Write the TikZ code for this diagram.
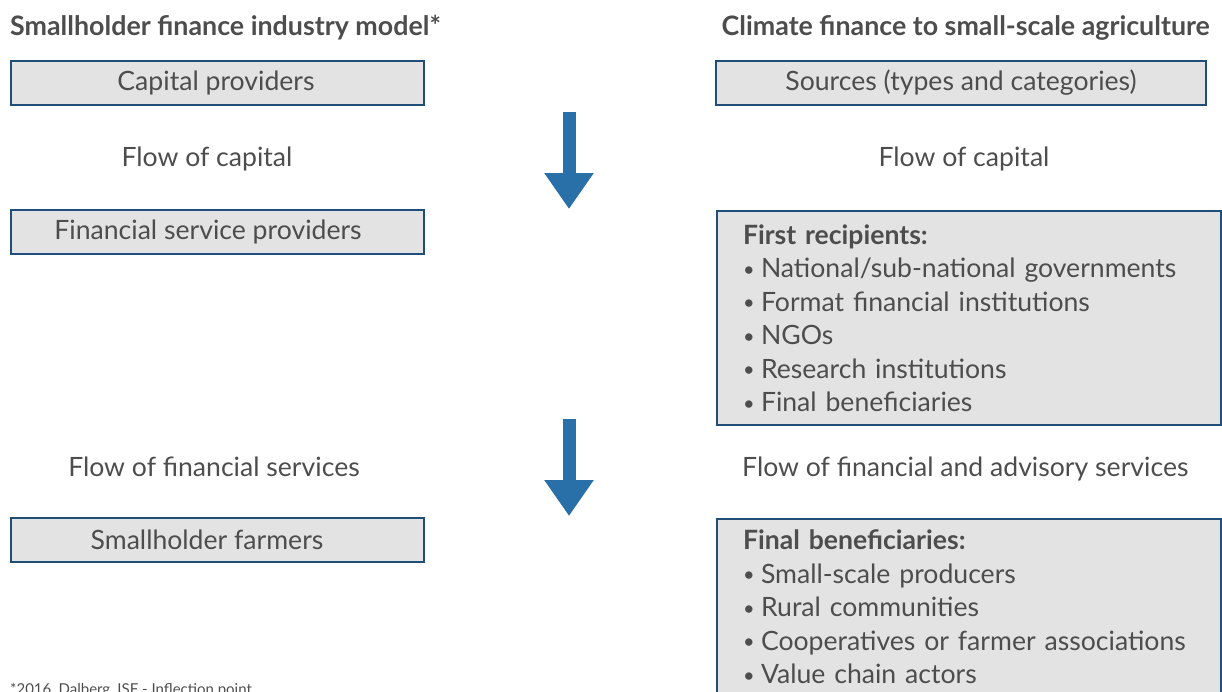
\documentclass[tikz,border=0pt]{standalone}
\usepackage{fontspec}
\setmainfont{Lato}
\usepackage{xcolor}
\usetikzlibrary{arrows.meta}
\definecolor{boxfill}{HTML}{E3E3E3}
\definecolor{boxline}{HTML}{1F4E79}
\definecolor{txtgray}{HTML}{4D4D4D}
\definecolor{arrowblue}{HTML}{2A70A8}
\tikzset{
  %---------------------------------------%
  %  Text styles                          %
  %---------------------------------------%
  % Column headings
  title_text/.style={
    inner sep=0pt,
    text=txtgray,
    font=\fontsize{26.8}{30}\selectfont\bfseries
  },
  % Flow labels between the boxes
  flow_text/.style={
    inner sep=0pt,
    text=txtgray,
    font=\fontsize{26.6}{33.5}\selectfont
  },
  % Footnote
  note_text/.style={
    inner sep=0pt,
    text=txtgray,
    font=\fontsize{15}{18}\selectfont
  },
  %---------------------------------------%
  %  Boxes                                %
  %---------------------------------------%
  % One-line box
  box_single/.style={
    rectangle,
    align=center,
    draw=boxline,
    line width=2pt,
    fill=boxfill,
    text=txtgray,
    inner sep=0pt,
    minimum width=413pt,
    minimum height=44pt,
    font=\fontsize{26.6}{33.5}\selectfont
  },
  % Box with a heading and a list
  box_list/.style={
    rectangle,
    align=left,
    anchor=north west,
    draw=boxline,
    line width=2pt,
    fill=boxfill,
    text=txtgray,
    text width=452pt,
    inner xsep=26pt,
    inner ysep=13.5pt,
    font=\fontsize{26.6}{33.5}\selectfont
  },
  %----------------%
  %     Arrows     %
  %----------------%
  flow_arrow/.style={draw=arrowblue, line width=13pt, -{Triangle[width=47pt,length=36pt]}},
}
% small list bullet
\newcommand{\itm}{\makebox[18pt][l]{\raisebox{1.5pt}{\scalebox{0.75}{\textbullet}}}}

\begin{document}
\begin{tikzpicture}[x=1pt, y=-1pt]
    \useasboundingbox (0, 0) rectangle (1222, 691);

    %------------------%
    %  Headings        %
    %------------------%
    \node (head_l) [title_text, anchor=base west] at (10, 35) {Smallholder finance industry model*};
    \node (head_r) [title_text, anchor=base east] at (1210, 35) {Climate finance to small-scale agriculture};

    %------------------%
    %  Capital         %
    %------------------%
    \node (cap_l) [box_single] at (217.5, 83) {\hspace*{-3pt}Capital providers};
    \node (cap_r) [box_single, minimum width=490pt] at (961, 83) {Sources (types and categories)};

    \node (flow1_l) [flow_text, anchor=base] at (207, 166.5) {Flow of capital};
    \node (flow1_r) [flow_text, anchor=base] at (964, 166.5) {Flow of capital};

    %------------------%
    %  Intermediaries  %
    %------------------%
    \node (fsp_l) [box_single] at (217.5, 232) {\hspace*{-19pt}Financial service providers};
    \node (first_r) [box_list] at (716, 210) {\textbf{First recipients:}\\
      \itm National/sub-national governments\\
      \itm Format financial institutions\\
      \itm NGOs\\
      \itm Research institutions\\
      \itm Final beneficiaries};

    \node (flow2_l) [flow_text, anchor=base] at (214, 476.5) {Flow of financial services};
    \node (flow2_r) [flow_text, anchor=base west] at (742, 476.5) {Flow of financial and advisory services};

    %------------------%
    %  Beneficiaries   %
    %------------------%
    \node (farm_l) [box_single] at (217.5, 540) {\hspace*{-21pt}Smallholder farmers};
    \node (final_r) [box_list, inner ysep=11pt] at (716, 518) {\textbf{Final beneficiaries:}\\
      \itm Small-scale producers\\
      \itm Rural communities\\
      \itm Cooperatives or farmer associations\\
      \itm Value chain actors};

    \node (note) [note_text, anchor=base west] at (10, 694) {*2016, Dalberg, ISF - Inflection point};

    %----------%
    %  Arrows  %
    %----------%
    \coordinate (arr1_top) at (569, 112);
    \coordinate (arr1_tip) at (569, 209);
    \coordinate (arr2_top) at (569, 419);
    \coordinate (arr2_tip) at (569, 516);
    % Capital --> Intermediaries
    \draw [flow_arrow] (arr1_top) -- (arr1_tip);
    % Intermediaries --> Beneficiaries
    \draw [flow_arrow] (arr2_top) -- (arr2_tip);
\end{tikzpicture}
\end{document}
